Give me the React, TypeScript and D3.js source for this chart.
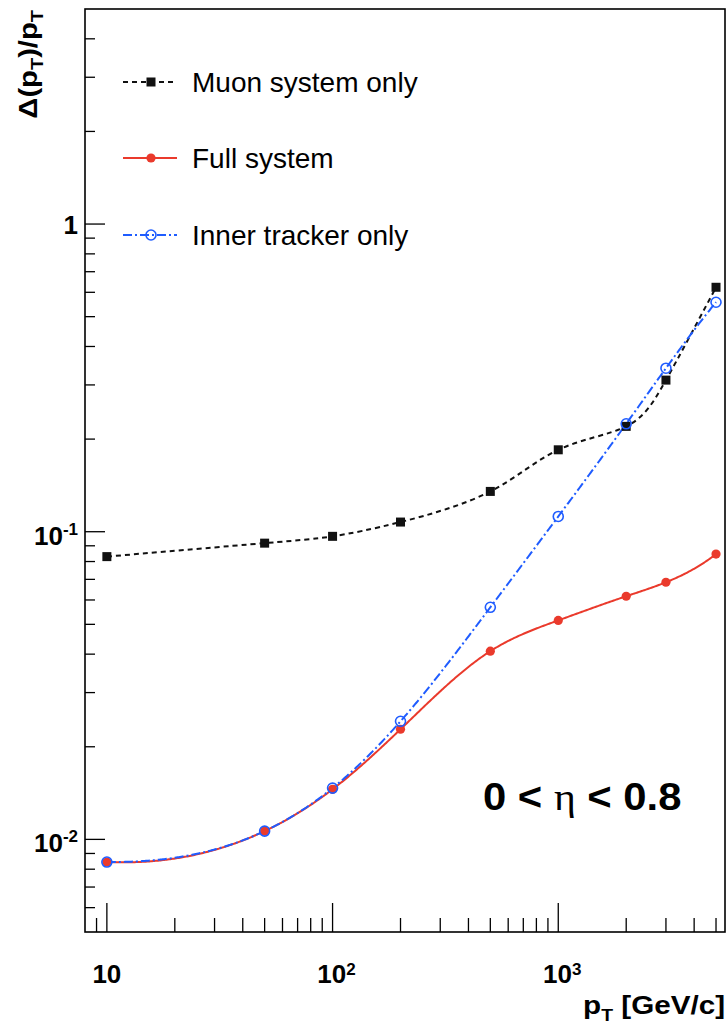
import React from "react";
import * as d3 from "d3";

// ---- data ----
const ptValues = [10, 50, 100, 200, 500, 1000, 2000, 3000, 5000];
const muonOnly = [0.083, 0.0918, 0.0966, 0.1075, 0.1352, 0.1846, 0.22, 0.311, 0.623];
const fullSystem = [0.00844, 0.01064, 0.01455, 0.0228, 0.0409, 0.0515, 0.0617, 0.0685, 0.0846];
const innerTracker = [0.00844, 0.01064, 0.01468, 0.0242, 0.0568, 0.1121, 0.2243, 0.34, 0.557];

const xDomain: [number, number] = [8, 5480];
const yDomain: [number, number] = [0.005, 5];

const xTickLabels = [
  { value: 10, base: "10", exp: "" },
  { value: 100, base: "10", exp: "2" },
  { value: 1000, base: "10", exp: "3" },
];
const yTickLabels = [
  { value: 1, base: "1", exp: "" },
  { value: 0.1, base: "10", exp: "-1" },
  { value: 0.01, base: "10", exp: "-2" },
];

const legendLabels = ["Muon system only", "Full system", "Inner tracker only"];

const W = 728;
const H = 1031;
const plot = { left: 85, right: 725, top: 9, bottom: 932 };
const FONT = "'Liberation Sans', Arial, Helvetica, sans-serif";

const BLACK = "#111111";
const RED = "#ea3a2c";
const BLUE = "#1f5cff";

const isPow10 = (v: number) => Math.abs(Math.log10(v) - Math.round(Math.log10(v))) < 1e-9;

// cubic spline with not-a-knot end conditions (smooth curve through the points)
function splineFn(xs: number[], ys: number[]) {
  const n = xs.length;
  const h = xs.slice(0, n - 1).map((v, i) => xs[i + 1] - v);
  const A: number[][] = Array.from({ length: n }, () => new Array(n).fill(0));
  const r: number[] = new Array(n).fill(0);
  A[0][0] = h[1];
  A[0][1] = -(h[0] + h[1]);
  A[0][2] = h[0];
  for (let i = 1; i < n - 1; i++) {
    A[i][i - 1] = h[i - 1];
    A[i][i] = 2 * (h[i - 1] + h[i]);
    A[i][i + 1] = h[i];
    r[i] = 6 * ((ys[i + 1] - ys[i]) / h[i] - (ys[i] - ys[i - 1]) / h[i - 1]);
  }
  A[n - 1][n - 3] = h[n - 2];
  A[n - 1][n - 2] = -(h[n - 3] + h[n - 2]);
  A[n - 1][n - 1] = h[n - 3];
  for (let c = 0; c < n; c++) {
    let p = c;
    for (let k = c + 1; k < n; k++) if (Math.abs(A[k][c]) > Math.abs(A[p][c])) p = k;
    [A[c], A[p]] = [A[p], A[c]];
    [r[c], r[p]] = [r[p], r[c]];
    for (let k = c + 1; k < n; k++) {
      const f = A[k][c] / A[c][c];
      for (let j = c; j < n; j++) A[k][j] -= f * A[c][j];
      r[k] -= f * r[c];
    }
  }
  const M = new Array(n).fill(0);
  for (let i = n - 1; i >= 0; i--) {
    let s = r[i];
    for (let j = i + 1; j < n; j++) s -= A[i][j] * M[j];
    M[i] = s / A[i][i];
  }
  return (xv: number) => {
    let i = 0;
    while (i < n - 2 && xv > xs[i + 1]) i++;
    const t = xv - xs[i];
    const b = (ys[i + 1] - ys[i]) / h[i] - (h[i] * (2 * M[i] + M[i + 1])) / 6;
    return ys[i] + b * t + (M[i] / 2) * t * t + ((M[i + 1] - M[i]) / (6 * h[i])) * t * t * t;
  };
}

function smoothPoints(values: number[]): [number, number][] {
  const lx = ptValues.map(Math.log10);
  const ly = values.map(Math.log10);
  const f = splineFn(lx, ly);
  const a = lx[0];
  const b = lx[lx.length - 1];
  const N = 500;
  const pts: [number, number][] = [];
  for (let k = 0; k <= N; k++) {
    const u = a + ((b - a) * k) / N;
    pts.push([Math.pow(10, u), Math.pow(10, f(u))]);
  }
  return pts;
}

export default function App() {
  const x = d3.scaleLog().domain(xDomain).range([plot.left, plot.right]);
  const y = d3.scaleLog().domain(yDomain).range([plot.bottom, plot.top]);

  const line = d3
    .line<[number, number]>()
    .x((d) => x(d[0]))
    .y((d) => y(d[1]));

  const naturalLine = d3
    .line<number>()
    .x((_, i) => x(ptValues[i]))
    .y((d) => y(d))
    .curve(d3.curveNatural);

  const xTicks = x.ticks().filter((v) => v > xDomain[0] * 1.001 && v < xDomain[1]);
  const yTicks = y.ticks().filter((v) => v > yDomain[0] * 1.001 && v < yDomain[1] * 0.999);

  const legendY = [82, 158, 235];
  const legX0 = 123;
  const legX1 = 177;
  const legXm = 151;

  const square = (cx: number, cy: number, k: string) => (
    <rect key={k} x={cx - 4.5} y={cy - 4.5} width={9} height={9} fill={BLACK} />
  );
  const redDot = (cx: number, cy: number, k: string) => (
    <circle key={k} cx={cx} cy={cy} r={4.6} fill={RED} />
  );
  const blueRing = (cx: number, cy: number, k: string) => (
    <circle key={k} cx={cx} cy={cy} r={5} fill="none" stroke={BLUE} strokeWidth={1.6} />
  );

  return (
    <svg
      width={W}
      height={H}
      style={{ position: "absolute", left: 0, top: 0, display: "block", background: "#fff" }}
      fontFamily={FONT}
    >
      <rect x={0} y={0} width={W} height={H} fill="#fff" />

      {/* series */}
      <path d={naturalLine(muonOnly) || ""} fill="none" stroke={BLACK} strokeWidth={2} strokeDasharray="5,4" />
      <path d={line(smoothPoints(fullSystem)) || ""} fill="none" stroke={RED} strokeWidth={2} />
      <path d={line(smoothPoints(innerTracker)) || ""} fill="none" stroke={BLUE} strokeWidth={2} strokeDasharray="9,3,2,3" />
      {muonOnly.map((v, i) => square(x(ptValues[i]), y(v), "m" + i))}
      {fullSystem.map((v, i) => redDot(x(ptValues[i]), y(v), "f" + i))}
      {innerTracker.map((v, i) => blueRing(x(ptValues[i]), y(v), "b" + i))}

      {/* frame */}
      <rect
        x={plot.left}
        y={plot.top}
        width={plot.right - plot.left}
        height={plot.bottom - plot.top}
        fill="none"
        stroke="#000"
        strokeWidth={1.6}
      />

      {/* x ticks */}
      {xTicks.map((v, i) => {
        const major = isPow10(v);
        return (
          <line
            key={"xt" + i}
            x1={x(v)}
            x2={x(v)}
            y1={plot.bottom}
            y2={plot.bottom - (major ? 29 : 14)}
            stroke="#000"
            strokeWidth={1.3}
          />
        );
      })}
      {/* y ticks */}
      {yTicks.map((v, i) => {
        const major = isPow10(v);
        return (
          <line
            key={"yt" + i}
            x1={plot.left}
            x2={plot.left + (major ? 20 : 10)}
            y1={y(v)}
            y2={y(v)}
            stroke="#000"
            strokeWidth={1.3}
          />
        );
      })}

      {/* x tick labels */}
      {xTickLabels.map((t, i) => (
        <text
          key={"xl" + i}
          x={x(t.value) + (t.exp ? 4 : 0)}
          y={983}
          textAnchor="middle"
          fontSize={26}
          fontWeight="bold"
          fill="#000"
        >
          {t.base}
          {t.exp && (
            <tspan fontSize={17} dy={-8}>
              {t.exp}
            </tspan>
          )}
        </text>
      ))}

      {/* y tick labels */}
      {yTickLabels.map((t, i) => (
        <text
          key={"yl" + i}
          x={78}
          y={y(t.value) + (t.exp ? 13 : 10)}
          textAnchor="end"
          fontSize={26}
          fontWeight="bold"
          fill="#000"
        >
          {t.base}
          {t.exp && (
            <tspan fontSize={17} dy={-10}>
              {t.exp}
            </tspan>
          )}
        </text>
      ))}

      {/* axis titles */}
      <text
        transform="translate(725,1014) scale(1.14,1)"
        textAnchor="end"
        fontSize={26}
        fontWeight="bold"
        fill="#000"
      >
        p
        <tspan fontSize={17} dy={7}>
          T
        </tspan>
        <tspan dy={-7}> [GeV/c]</tspan>
      </text>
      <text
        transform="translate(37,10) rotate(-90) scale(1.17,1)"
        textAnchor="end"
        fontSize={25}
        fontWeight="bold"
        fill="#000"
      >
        Δ(p
        <tspan fontSize={17} dy={6}>
          T
        </tspan>
        <tspan dy={-6}>)/p</tspan>
        <tspan fontSize={17} dy={6}>
          T
        </tspan>
      </text>

      {/* legend */}
      <line x1={legX0} x2={legX1} y1={legendY[0]} y2={legendY[0]} stroke={BLACK} strokeWidth={2} strokeDasharray="5,4" />
      {square(legXm, legendY[0], "lm")}
      <line x1={legX0} x2={legX1} y1={legendY[1]} y2={legendY[1]} stroke={RED} strokeWidth={2} />
      {redDot(legXm, legendY[1], "lf")}
      <line x1={legX0} x2={legX1} y1={legendY[2]} y2={legendY[2]} stroke={BLUE} strokeWidth={2} strokeDasharray="9,3,2,3" />
      {blueRing(legXm, legendY[2], "lb")}
      {legendLabels.map((s, i) => (
        <text key={"lt" + i} x={192} y={legendY[i] + 10} fontSize={28} fill="#000">
          {s}
        </text>
      ))}

      {/* eta range */}
      <text transform="translate(483,810) scale(1.1,1)" fontSize={38} fontWeight="bold" fill="#000">
        {"0 < "}
        <tspan fontFamily="'Liberation Serif', 'DejaVu Serif', serif" fontWeight="normal">
          η
        </tspan>
        {" < 0.8"}
      </text>
    </svg>
  );
}
